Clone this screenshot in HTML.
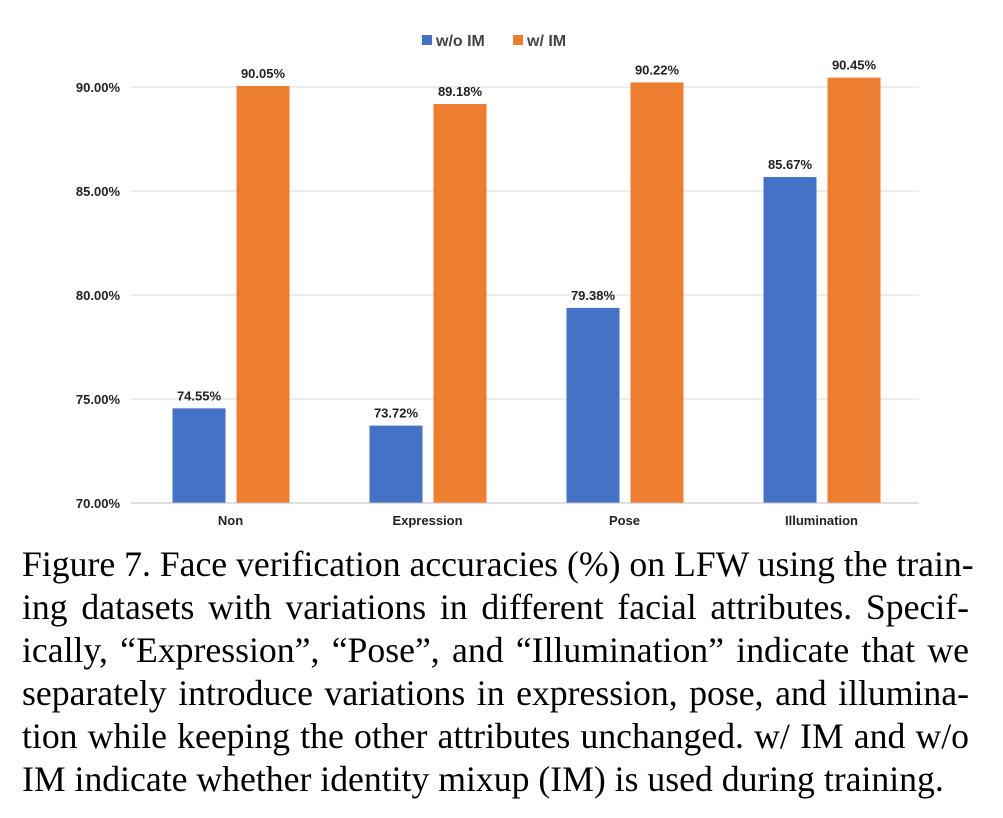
<!DOCTYPE html>
<html><head><meta charset="utf-8">
<style>
body{margin:0;background:#fff;width:1003px;height:818px;overflow:hidden;position:relative}
#cap{position:absolute;left:22px;top:543px;width:947px;font-family:"Liberation Serif",serif;font-size:35.7px;color:#000}
#cap div{height:43px;line-height:43px;text-align:justify;text-align-last:justify;white-space:nowrap}
#cap div.last{text-align:left;text-align-last:left}
</style></head><body>
<svg id="chart" width="1003" height="540" style="position:absolute;left:0;top:0" font-family="Liberation Sans, sans-serif"></svg>
<div id="cap">
<div>Figure 7. Face verification accuracies (%) on LFW using the train-</div>
<div>ing datasets with variations in different facial attributes. Specif-</div>
<div>ically, “Expression”, “Pose”, and “Illumination” indicate that we</div>
<div>separately introduce variations in expression, pose, and illumina-</div>
<div>tion while keeping the other attributes unchanged. w/ IM and w/o</div>
<div class="last">IM indicate whether identity mixup (IM) is used during training.</div>
</div>
<script>
const categories=["Non","Expression","Pose","Illumination"];
const woIM=[74.55,73.72,79.38,85.67];
const wIM=[90.05,89.18,90.22,90.45];
const ticks=[70,75,80,85,90];
const svg=document.getElementById('chart');
const NS='http://www.w3.org/2000/svg';
function y(v){return 503-(v-70)*(416/20);}
function x0(i){return 131+i*197;}
function mk(t,a,txt){const e=document.createElementNS(NS,t);for(const k in a)e.setAttribute(k,a[k]);if(txt!==undefined)e.textContent=txt;svg.appendChild(e);return e;}
ticks.forEach(t=>{
 const l=mk('line',{x1:131,x2:919,y1:y(t),y2:y(t),stroke:'#d9d9d9','stroke-width':1});
 
 
 const tx=mk('text',{x:120,y:y(t)+5,'text-anchor':'end','font-size':13,'font-weight':'bold',fill:'#222'},t.toFixed(2)+'%');
 
 
});
categories.forEach((c,i)=>{
 const cx=x0(i)+98.5;
 const b1=mk('rect',{x:cx-57,y:y(woIM[i]),width:53,height:503-y(woIM[i]),fill:'#4472c4'});
 
 
 const b2=mk('rect',{x:cx+7,y:y(wIM[i]),width:53,height:503-y(wIM[i]),fill:'#ed7d31'});
 
 
 const l1=mk('text',{x:cx-30.5,y:y(woIM[i])-8,'text-anchor':'middle','font-size':13,'font-weight':'bold',fill:'#222'},woIM[i].toFixed(2)+'%');
 
 
 const l2=mk('text',{x:cx+33.5,y:y(wIM[i])-8,'text-anchor':'middle','font-size':13,'font-weight':'bold',fill:'#222'},wIM[i].toFixed(2)+'%');
 
 
 const xl=mk('text',{x:cx+1,y:525,'text-anchor':'middle','font-size':13,'font-weight':'bold',fill:'#222'},c);
 
 
});
const ax=mk('line',{x1:131,x2:919,y1:503,y2:503,stroke:'#bfbfbf','stroke-width':1});


const s1=mk('rect',{x:422,y:35,width:10,height:10,fill:'#4472c4'});


const t1=mk('text',{x:436,y:46,'font-size':16,'font-weight':'bold',fill:'#444'},'w/o IM');


const s2=mk('rect',{x:513,y:35,width:10,height:10,fill:'#ed7d31'});


const t2=mk('text',{x:527,y:46,'font-size':16,'font-weight':'bold',fill:'#444'},'w/ IM');


</script>
</body></html>
